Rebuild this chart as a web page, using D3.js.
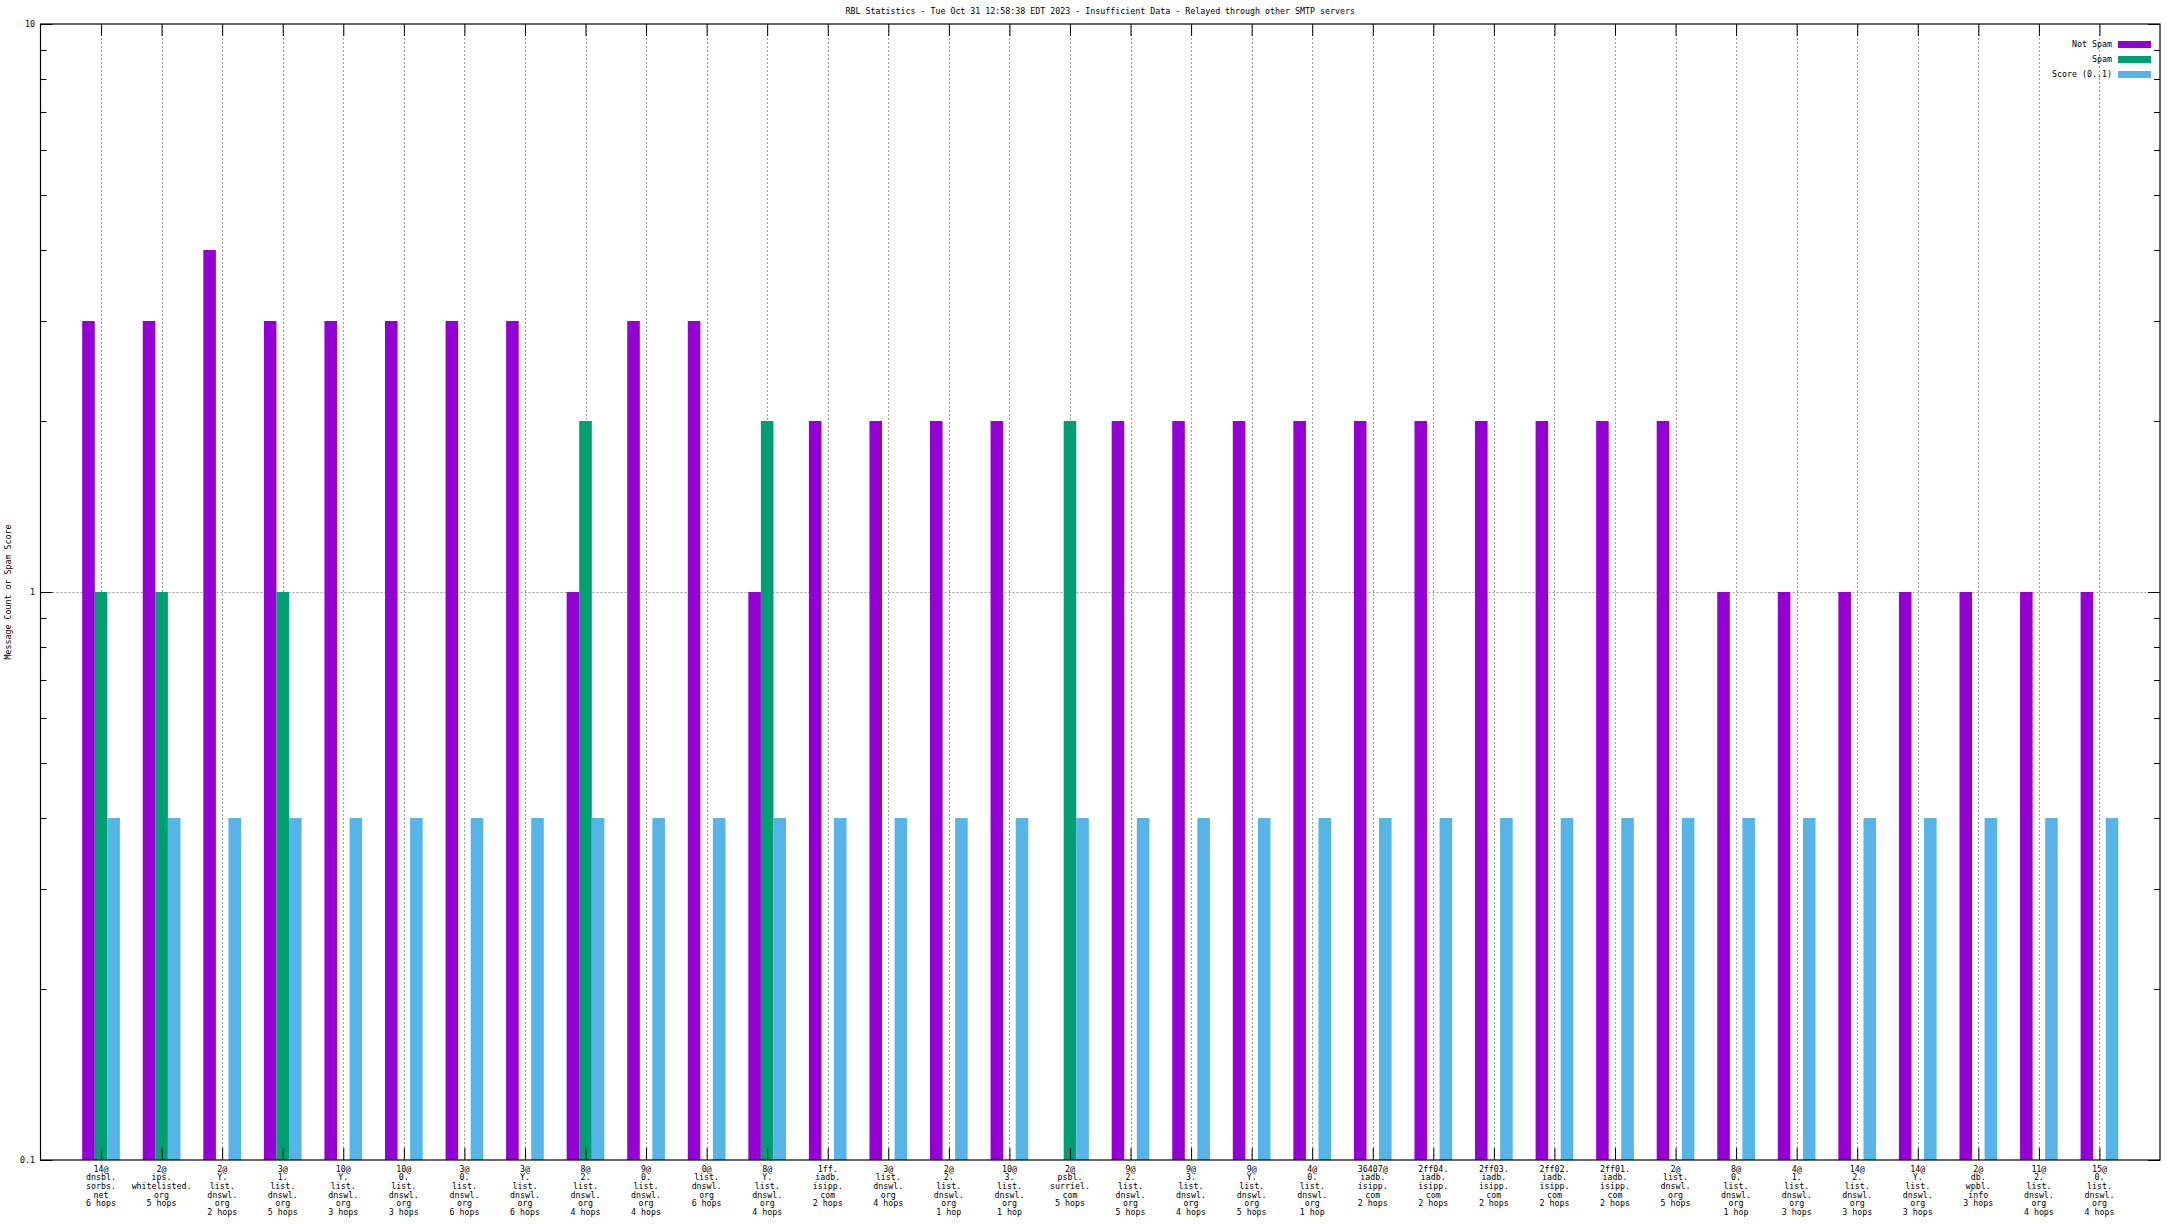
<!DOCTYPE html>
<html>
<head>
<meta charset="utf-8">
<script src="https://cdn.jsdelivr.net/npm/d3@7/dist/d3.min.js"></script>
<style>
  html, body { margin: 0; padding: 0; background: #fff; }
  svg { display: block; }
  text { font-family: "DejaVu Sans Mono", monospace; font-size: 8.3px; fill: #000; }
</style>
</head>
<body>
<svg id="chart" width="2176" height="1224"></svg>
<script>
const title = "RBL Statistics - Tue Oct 31 12:58:38 EDT 2023 - Insufficient Data - Relayed through other SMTP servers";
const yLabel = "Message Count or Spam Score";
const seriesNames = ["Not Spam", "Spam", "Score (0..1)"];
const seriesColors = ["#9400D3", "#009E73", "#56B4E9"];

const categories = [
  "14@\ndnsbl.\nsorbs.\nnet\n6 hops",
  "2@\nips.\nwhitelisted.\norg\n5 hops",
  "2@\nY.\nlist.\ndnswl.\norg\n2 hops",
  "3@\n1.\nlist.\ndnswl.\norg\n5 hops",
  "10@\nY.\nlist.\ndnswl.\norg\n3 hops",
  "10@\n0.\nlist.\ndnswl.\norg\n3 hops",
  "3@\n0.\nlist.\ndnswl.\norg\n6 hops",
  "3@\nY.\nlist.\ndnswl.\norg\n6 hops",
  "8@\n2.\nlist.\ndnswl.\norg\n4 hops",
  "9@\n0.\nlist.\ndnswl.\norg\n4 hops",
  "0@\nlist.\ndnswl.\norg\n6 hops",
  "8@\nY.\nlist.\ndnswl.\norg\n4 hops",
  "1ff.\niadb.\nisipp.\ncom\n2 hops",
  "3@\nlist.\ndnswl.\norg\n4 hops",
  "2@\n2.\nlist.\ndnswl.\norg\n1 hop",
  "10@\n3.\nlist.\ndnswl.\norg\n1 hop",
  "2@\npsbl.\nsurriel.\ncom\n5 hops",
  "9@\n2.\nlist.\ndnswl.\norg\n5 hops",
  "9@\n3.\nlist.\ndnswl.\norg\n4 hops",
  "9@\nY.\nlist.\ndnswl.\norg\n5 hops",
  "4@\n0.\nlist.\ndnswl.\norg\n1 hop",
  "36407@\niadb.\nisipp.\ncom\n2 hops",
  "2ff04.\niadb.\nisipp.\ncom\n2 hops",
  "2ff03.\niadb.\nisipp.\ncom\n2 hops",
  "2ff02.\niadb.\nisipp.\ncom\n2 hops",
  "2ff01.\niadb.\nisipp.\ncom\n2 hops",
  "2@\nlist.\ndnswl.\norg\n5 hops",
  "8@\n0.\nlist.\ndnswl.\norg\n1 hop",
  "4@\n1.\nlist.\ndnswl.\norg\n3 hops",
  "14@\n2.\nlist.\ndnswl.\norg\n3 hops",
  "14@\nY.\nlist.\ndnswl.\norg\n3 hops",
  "2@\ndb.\nwpbl.\ninfo\n3 hops",
  "11@\n2.\nlist.\ndnswl.\norg\n4 hops",
  "15@\n0.\nlist.\ndnswl.\norg\n4 hops"
];

const notSpam = [3,3,4,3,3,3,3,3,1,3,3,1,2,2,2,2,null,2,2,2,2,2,2,2,2,2,2,1,1,1,1,1,1,1];
const spam    = [1,1,null,1,null,null,null,null,2,null,null,2,null,null,null,null,2,null,null,null,null,null,null,null,null,null,null,null,null,null,null,null,null,null];
const score   = [0.4,0.4,0.4,0.4,0.4,0.4,0.4,0.4,0.4,0.4,0.4,0.4,0.4,0.4,0.4,0.4,0.4,0.4,0.4,0.4,0.4,0.4,0.4,0.4,0.4,0.4,0.4,0.4,0.4,0.4,0.4,0.4,0.4,0.4];
const series = [notSpam, spam, score];

const yMajorTicks = [0.1, 1, 10];
const yTickLabels = ["0.1", "1", "10"];

const svg = d3.select("#chart");
const L = 40.5, R = 2160, T = 24, B = 1160;

const x = d3.scaleLinear().domain([-1, categories.length]).range([L, R]);
const y = d3.scaleLog().domain([0.1, 10]).range([B, T]);
const step = x(1) - x(0);
const bw = step * 0.2075;

const minorTicks = [];
[0.1, 1].forEach(d => { for (let k = 2; k <= 9; k++) minorTicks.push(+(d * k).toFixed(3)); });

// grid
const grid = svg.append("g").attr("stroke", "#a0a0a0").attr("stroke-width", 1).attr("stroke-dasharray", "2,2");
grid.selectAll("line.v").data(categories).join("line")
  .attr("x1", (d, i) => Math.round(x(i)) + 0.5).attr("x2", (d, i) => Math.round(x(i)) + 0.5)
  .attr("y1", B).attr("y2", T);
grid.append("line").attr("x1", L).attr("x2", R)
  .attr("y1", Math.round(y(1)) + 0.5).attr("y2", Math.round(y(1)) + 0.5);

// bars
series.forEach((vals, s) => {
  svg.append("g").attr("fill", seriesColors[s])
    .selectAll("rect").data(vals.map((v, i) => ({v, i})).filter(d => d.v != null)).join("rect")
    .attr("x", d => x(d.i) + (s - 1.5) * bw)
    .attr("width", bw)
    .attr("y", d => y(d.v))
    .attr("height", d => B - y(d.v));
});

// axes (ticks)
const axStyle = g => { g.selectAll(".domain").remove(); g.selectAll("line").attr("stroke", "#000"); g.selectAll("text").remove(); };
svg.append("g").attr("transform", `translate(${L},0)`)
  .call(d3.axisRight(y).tickValues(yMajorTicks).tickSize(12).tickFormat("")).call(axStyle);
svg.append("g").attr("transform", `translate(${L},0)`)
  .call(d3.axisRight(y).tickValues(minorTicks).tickSize(6).tickFormat("")).call(axStyle);
svg.append("g").attr("transform", `translate(${R},0)`)
  .call(d3.axisLeft(y).tickValues(yMajorTicks).tickSize(12).tickFormat("")).call(axStyle);
svg.append("g").attr("transform", `translate(${R},0)`)
  .call(d3.axisLeft(y).tickValues(minorTicks).tickSize(6).tickFormat("")).call(axStyle);
const catIdx = d3.range(categories.length);
svg.append("g").attr("transform", `translate(0,${B})`)
  .call(d3.axisTop(x).tickValues(catIdx).tickSize(12).tickFormat("")).call(axStyle);
svg.append("g").attr("transform", `translate(0,${T})`)
  .call(d3.axisBottom(x).tickValues(catIdx).tickSize(12).tickFormat("")).call(axStyle);

// border
svg.append("rect").attr("x", L).attr("y", T).attr("width", R - L).attr("height", B - T)
  .attr("fill", "none").attr("stroke", "#000").attr("stroke-width", 1.2);

// y tick labels
svg.append("g").selectAll("text").data(yMajorTicks).join("text")
  .attr("x", 35).attr("y", d => y(d)).attr("dy", "0.35em").attr("text-anchor", "end")
  .text((d, i) => yTickLabels[i]);

// x labels
const xl = svg.append("g").selectAll("text").data(categories).join("text")
  .attr("text-anchor", "middle");
xl.each(function(d, i) {
  const t = d3.select(this);
  d.split("\n").forEach((line, k) => {
    t.append("tspan").attr("x", x(i)).attr("y", 1168.6 + k * 8.7).attr("dy", "0.35em").text(line);
  });
});

// title
svg.append("text").attr("x", (L + R) / 2).attr("y", 11).attr("dy", "0.35em")
  .attr("text-anchor", "middle").text(title);

// y label
svg.append("text").attr("transform", `translate(8,${(T + B) / 2}) rotate(-90)`)
  .attr("text-anchor", "middle").attr("dy", "0.35em").text(yLabel);

// legend
const lg = svg.append("g");
seriesNames.forEach((n, s) => {
  const cy = 44.5 + s * 15;
  lg.append("text").attr("x", 2112).attr("y", cy).attr("dy", "0.35em").attr("text-anchor", "end").text(n);
  lg.append("rect").attr("x", 2118).attr("y", cy - 3.5).attr("width", 33).attr("height", 7).attr("fill", seriesColors[s]);
});
</script>
</body>
</html>
